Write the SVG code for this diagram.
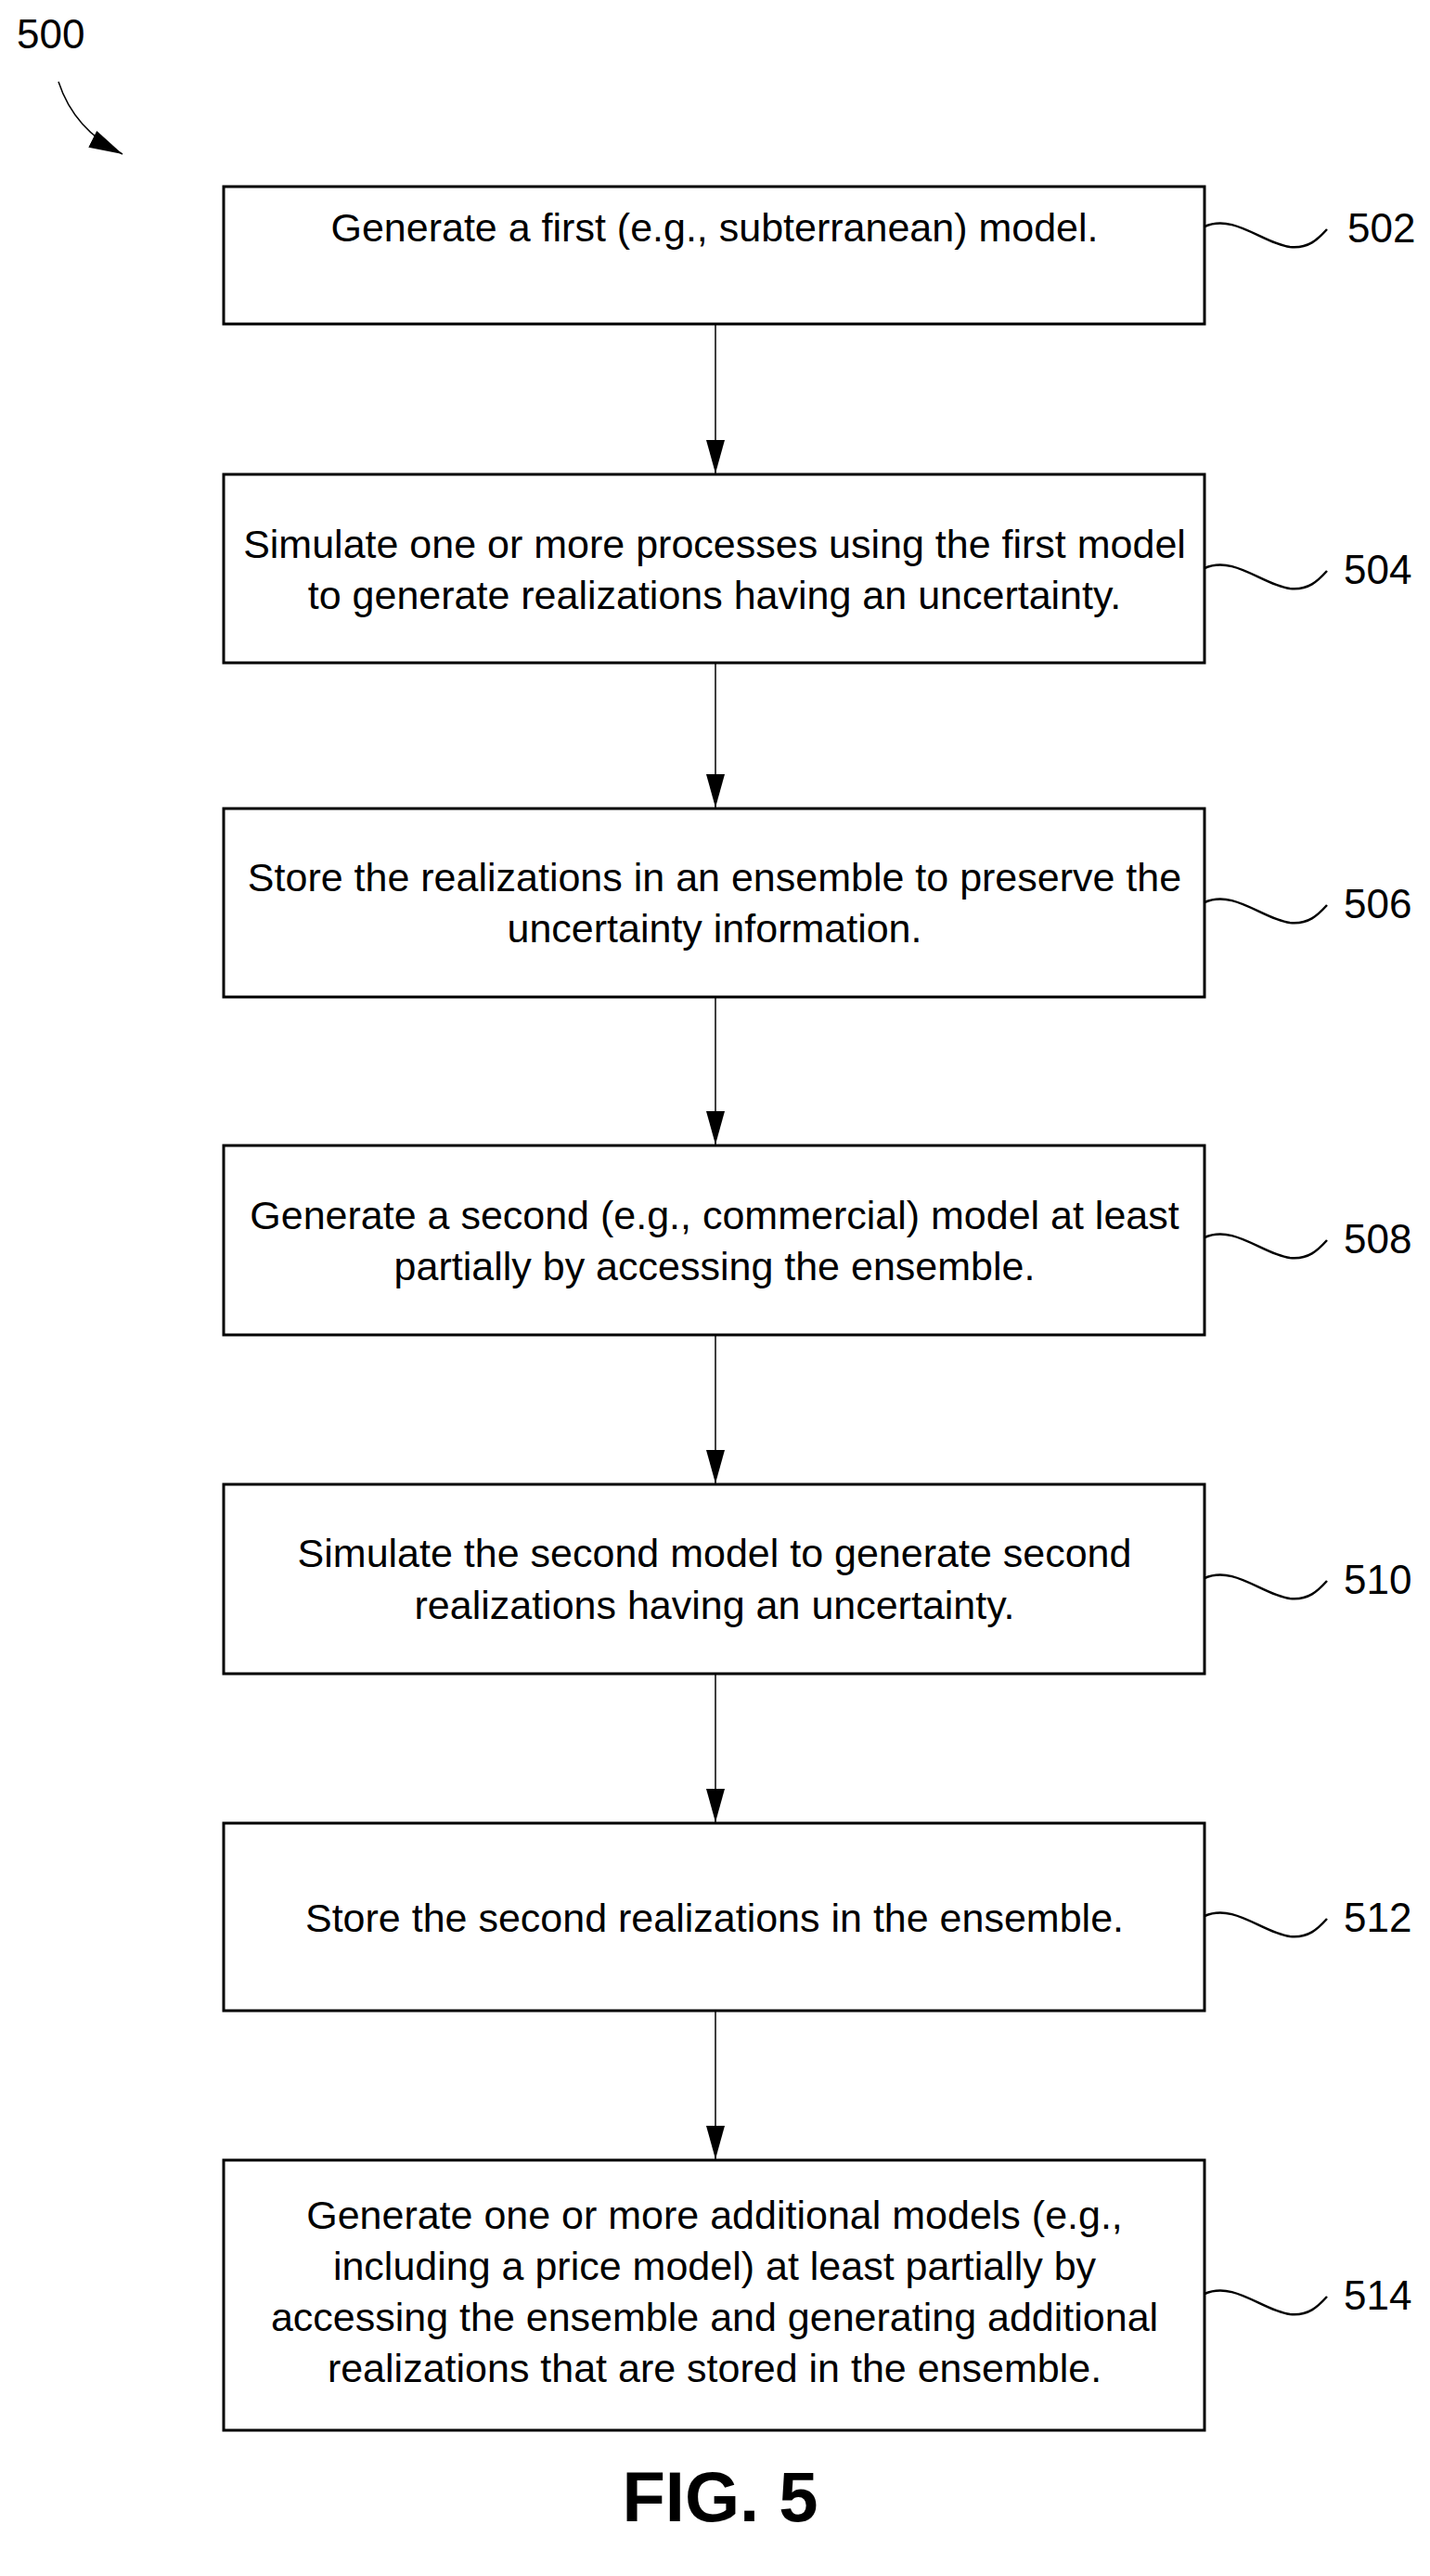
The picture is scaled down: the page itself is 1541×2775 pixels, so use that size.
<svg xmlns="http://www.w3.org/2000/svg" width="1541" height="2775" viewBox="0 0 1541 2775">
<style>
.box{fill:#fff;stroke:#000;stroke-width:3}
.t{font-family:"Liberation Sans",Arial,sans-serif;font-size:43px;text-anchor:middle;fill:#000}
.lb{font-family:"Liberation Sans",Arial,sans-serif;font-size:44px;fill:#000}
.c{stroke:#000;stroke-width:1.5;fill:none}
.sq{stroke:#000;stroke-width:2.5;fill:none}
</style>
<defs>
<marker id="ah" markerWidth="36" markerHeight="20" refX="36" refY="10" orient="auto" markerUnits="userSpaceOnUse">
<path d="M0,0 L36,10 L0,20 z" fill="#000"/>
</marker>
</defs>
<rect width="1541" height="2775" fill="#fff"/>
<g id="connectors">
<line class="c" x1="771" y1="349" x2="771" y2="510" marker-end="url(#ah)"/>
<line class="c" x1="771" y1="714" x2="771" y2="870" marker-end="url(#ah)"/>
<line class="c" x1="771" y1="1074" x2="771" y2="1233" marker-end="url(#ah)"/>
<line class="c" x1="771" y1="1438" x2="771" y2="1598" marker-end="url(#ah)"/>
<line class="c" x1="771" y1="1803" x2="771" y2="1963" marker-end="url(#ah)"/>
<line class="c" x1="771" y1="2166" x2="771" y2="2326" marker-end="url(#ah)"/>
<path class="c" d="M63,88 Q80,140 132,166" stroke-width="3" marker-end="url(#ah)"/>
</g>
<text class="lb" x="18" y="52">500</text>
<g id="n502">
<rect class="box" x="241" y="201" width="1057" height="148"/>
<text class="t" x="770" y="260">Generate a first (e.g., subterranean) model.</text>
<path class="sq" d="M1298,244 C1330,230 1360,262 1390,266 C1410,268 1420,258 1430,247"/>
<text class="lb" x="1452" y="261">502</text>
</g>
<g id="n504">
<rect class="box" x="241" y="511" width="1057" height="203"/>
<text class="t" x="770" y="601">Simulate one or more processes using the first model</text>
<text class="t" x="770" y="656">to generate realizations having an uncertainty.</text>
<path class="sq" d="M1298,612 C1330,598 1360,630 1390,634 C1410,636 1420,626 1430,615"/>
<text class="lb" x="1448" y="629">504</text>
</g>
<g id="n506">
<rect class="box" x="241" y="871" width="1057" height="203"/>
<text class="t" x="770" y="960">Store the realizations in an ensemble to preserve the</text>
<text class="t" x="770" y="1015">uncertainty information.</text>
<path class="sq" d="M1298,972 C1330,958 1360,990 1390,994 C1410,996 1420,986 1430,975"/>
<text class="lb" x="1448" y="989">506</text>
</g>
<g id="n508">
<rect class="box" x="241" y="1234" width="1057" height="204"/>
<text class="t" x="770" y="1324">Generate a second (e.g., commercial) model at least</text>
<text class="t" x="770" y="1379">partially by accessing the ensemble.</text>
<path class="sq" d="M1298,1333 C1330,1319 1360,1351 1390,1355 C1410,1357 1420,1347 1430,1336"/>
<text class="lb" x="1448" y="1350">508</text>
</g>
<g id="n510">
<rect class="box" x="241" y="1599" width="1057" height="204"/>
<text class="t" x="770" y="1688">Simulate the second model to generate second</text>
<text class="t" x="770" y="1744">realizations having an uncertainty.</text>
<path class="sq" d="M1298,1700 C1330,1686 1360,1718 1390,1722 C1410,1724 1420,1714 1430,1703"/>
<text class="lb" x="1448" y="1717">510</text>
</g>
<g id="n512">
<rect class="box" x="241" y="1964" width="1057" height="202"/>
<text class="t" x="770" y="2081">Store the second realizations in the ensemble.</text>
<path class="sq" d="M1298,2064 C1330,2050 1360,2082 1390,2086 C1410,2088 1420,2078 1430,2067"/>
<text class="lb" x="1448" y="2081">512</text>
</g>
<g id="n514">
<rect class="box" x="241" y="2327" width="1057" height="291"/>
<text class="t" x="770" y="2401">Generate one or more additional models (e.g.,</text>
<text class="t" x="770" y="2456">including a price model) at least partially by</text>
<text class="t" x="770" y="2511">accessing the ensemble and generating additional</text>
<text class="t" x="770" y="2566">realizations that are stored in the ensemble.</text>
<path class="sq" d="M1298,2471 C1330,2457 1360,2489 1390,2493 C1410,2495 1420,2485 1430,2474"/>
<text class="lb" x="1448" y="2488">514</text>
</g>
<text x="776" y="2716" font-family="Liberation Sans,Arial,sans-serif" font-size="76" font-weight="bold" text-anchor="middle">FIG. 5</text>
</svg>
